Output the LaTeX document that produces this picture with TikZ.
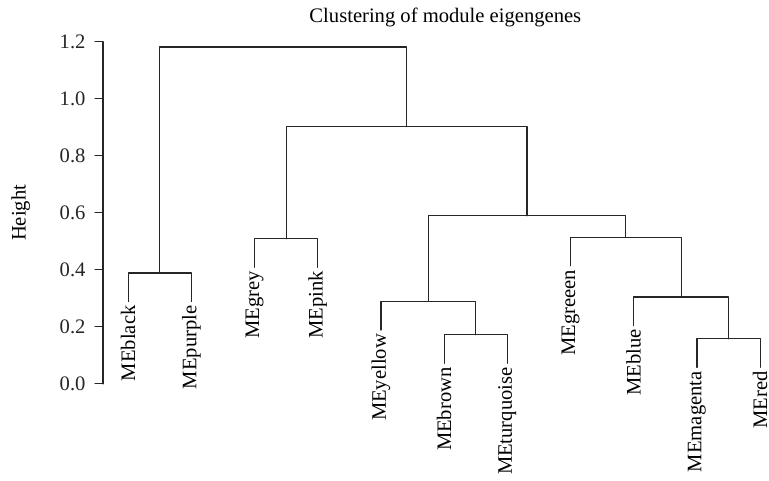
\documentclass[tikz,border=0pt]{standalone}
\usepackage{fontspec}
\setmainfont{Liberation Serif}
\begin{document}
\begin{tikzpicture}[x=31.6pt, y=142.5pt, line join=round, line cap=round,
	font=\fontsize{10.3}{12}\selectfont,
	branch/.style={line width=0.6pt, color=black!85},
	leaflab/.style={rotate=90, anchor=east, inner xsep=1.8pt, inner ysep=0.3pt},
	ticklab/.style={anchor=east, inner sep=4.5pt}]
	\def\hang{0.1}
	\useasboundingbox (-1.027,-0.340) rectangle (11.141,1.347);
	% axis
	\def\xax{0.604} \def\tk{0.127}
	\draw[branch] (\xax,0)--(\xax,1.2);
	\foreach \y/\t in {0/0.0,0.2/0.2,0.4/0.4,0.6/0.6,0.8/0.8,1.0/1.0,1.2/1.2}
	\draw[branch] (\xax,\y)--(\xax-\tk,\y) node [ticklab] {\t};
	\node[rotate=90] (ylab) at (-0.70,0.6) {Height};
	\node[anchor=base] (title) at (6.02,1.267) {Clustering of module eigengenes};
	% merge points
	\coordinate (mBP) at (1.5,0.389);
	\coordinate (mGP) at (3.5,0.509);
	\coordinate (mBT) at (6.5,0.172);
	\coordinate (mYBT) at (5.75,0.289);
	\coordinate (mMR) at (10.5,0.158);
	\coordinate (mBMR) at (9.75,0.305);
	\coordinate (mGBMR) at (8.875,0.514);
	\coordinate (mMid) at (7.3125,0.590);
	\coordinate (mTop) at (5.40625,0.903);
	\coordinate (mRoot) at (3.453,1.182);
	% leaves
	\node[leaflab] (black) at (1,0.389-\hang) {MEblack};
	\node[leaflab] (purple) at (2,0.389-\hang) {MEpurple};
	\node[leaflab] (grey) at (3,0.509-\hang) {MEgrey};
	\node[leaflab] (pink) at (4,0.509-\hang) {MEpink};
	\node[leaflab] (yellow) at (5,0.289-\hang) {MEyellow};
	\node[leaflab] (brown) at (6,0.172-\hang) {MEbrown};
	\node[leaflab] (turquoise) at (7,0.172-\hang) {MEturquoise};
	\node[leaflab] (greeen) at (8,0.514-\hang) {MEgreeen};
	\node[leaflab] (blue) at (9,0.305-\hang) {MEblue};
	\node[leaflab] (magenta) at (10,0.158-\hang) {MEmagenta};
	\node[leaflab] (red) at (11,0.158-\hang) {MEred};
	% branches
	\draw[branch] (black.east) |- (mBP) -| (purple.east);
	\draw[branch] (grey.east) |- (mGP) -| (pink.east);
	\draw[branch] (brown.east) |- (mBT) -| (turquoise.east);
	\draw[branch] (yellow.east) |- (mYBT) -| (mBT);
	\draw[branch] (magenta.east) |- (mMR) -| (red.east);
	\draw[branch] (blue.east) |- (mBMR) -| (mMR);
	\draw[branch] (greeen.east) |- (mGBMR) -| (mBMR);
	\draw[branch] (mYBT) |- (mMid) -| (mGBMR);
	\draw[branch] (mGP) |- (mTop) -| (mMid);
	\draw[branch] (mBP) |- (mRoot) -| (mTop);
\end{tikzpicture}
\end{document}
